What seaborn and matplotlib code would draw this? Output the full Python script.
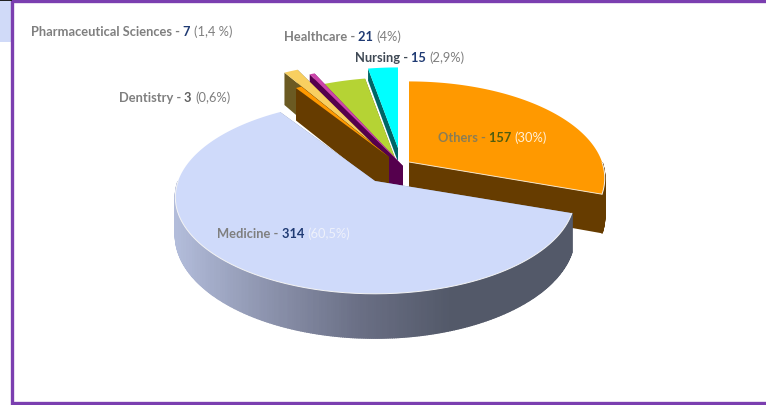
# 3D look exploded pie, drawn on a pixel sized axes
import numpy as np
import matplotlib
matplotlib.use("Agg")
import matplotlib.pyplot as plt
from matplotlib.patches import Rectangle
import seaborn as sns

# Data (clockwise from 12 o'clock), the 2 is the small slice without a label
categories = ["Others", "Medicine", "Dentistry", "Pharmaceutical Sciences", "Unlabelled", "Healthcare", "Nursing"]
values = [157, 314, 3, 7, 2, 21, 15]

# Label parts
label_names = ["Pharmaceutical Sciences", "Healthcare", "Nursing", "Dentistry", "Others", "Medicine"]
label_counts = ["7", "21", "15", "3", "157", "314"]
label_pcts = ["(1,4 %)", "(4%)", "(2,9%)", "(0,6%)", "(30%)", "(60,5%)"]

# Styles per slice
top_colors = ["#ff9900", "#cfdafa", "#ff9900", "#f8cf60", "#cc44aa", "#b5d334", "#00ffff"]
side_colors = ["#663c00", "#7f88a0", "#663c00", "#6b5a22", "#55004d", "#5a6a1a", "#006666"]
apex_x = [409, 375, 389, 372, 403, 395, 398]
apex_y = [162, 181, 157, 143, 166, 158, 148]
radius_scale = [1, 1, 1, 1, 1.3, 1, 1]
x_stretch = [1, 1.02, 1, 1, 1, 1, 1]
thickness = [37, 37, 37, 37, 37, 14, 14]
draw_order = [6, 5, 4, 3, 2, 0, 1]

RX, RY, DEPTH = 193, 94, 6.0
PURPLE = "#7b3fb0"


def project(theta, k, drop):
    # theta in radians clockwise from the top, k is the radial fraction
    x_in, y_in = k * np.sin(theta), k * np.cos(theta)
    s = DEPTH / (DEPTH + y_in)
    return x_in * RX * s, -y_in * RY * s, drop * s


sns.set_theme(style="white")
plt.rcParams["font.family"] = ["Lato", "DejaVu Sans"]

fig = plt.figure(figsize=(7.66, 4.05), dpi=100)
ax = fig.add_axes([0, 0, 1, 1])
ax.set_xlim(0, 766)
ax.set_ylim(405, 0)
ax.axis("off")

# Frame and the bit of slide behind it
ax.add_patch(Rectangle((0, 0), 12, 42, fc="#d0daf8", ec="none", zorder=0))
ax.add_patch(Rectangle((12, 1), 780, 402, fc="white", ec=PURPLE, lw=2.4, zorder=1))
ax.add_patch(Rectangle((0, 0), 12, 1.2, fc="#222222", ec="none", zorder=2))

rim_ramp = sns.blend_palette(["#b2bcda", "#8c93ad", "#6a6f85", "#535969"], 100)

fractions = np.array(values) / sum(values)
edges = np.concatenate([[0], np.cumsum(fractions)]) * 2 * np.pi

for rank, i in enumerate(draw_order):
    z = 5 + rank
    t0, t1 = edges[i], edges[i + 1]
    th = np.linspace(t0, t1, max(int(np.degrees(t1 - t0)) * 2, 6))
    k = radius_scale[i]
    ox, oy = apex_x[i], apex_y[i]
    xa, ya, da = project(th, k, thickness[i])
    xa, ya = xa * x_stretch[i] + ox, ya + oy

    # Cut faces, from apex to both ends of the arc
    for j in (0, -1):
        ax.fill([ox, xa[j], xa[j], ox],
                [oy, ya[j], ya[j] + da[j], oy + thickness[i]],
                color=side_colors[i], lw=0, zorder=z)

    # Rim in small strips, only the part facing us, Medicine gets the grey gradient
    for j in range(len(th) - 1):
        if np.cos(th[j]) > 0 or np.cos(th[j + 1]) > 0:
            continue
        if categories[i] == "Medicine":
            pos = np.clip((xa[j] - 175) / (450 - 175), 0, 1)
            strip_col = rim_ramp[int(pos * 99)]
        else:
            strip_col = side_colors[i]
        ax.fill([xa[j], xa[j + 1], xa[j + 1], xa[j]],
                [ya[j], ya[j + 1], ya[j + 1] + da[j + 1], ya[j] + da[j]],
                color=strip_col, lw=1.0, zorder=z)

    # Top face, with a light line only where it meets the side
    ax.fill(np.r_[ox, xa], np.r_[oy, ya], color=top_colors[i], lw=0, zorder=z + 0.5)
    front = np.cos(th) < 0
    ax.plot(xa[front], ya[front], color="#f4f4f4", lw=0.7, zorder=z + 0.6)
    if categories[i] == "Others":
        ax.plot([ox, xa[-1]], [oy, ya[-1]], color="#f4e2c4", lw=0.7, zorder=z + 0.6)

# Labels, three runs of text in a row
name_cols = ["#7f7f7f", "#7f7f7f", "#404a55", "#7f7f7f", "#8a7d55", "#7f7f7f"]
count_cols = ["#1f3a73", "#1f3a73", "#1f3a73", "#5f5f5f", "#4f5d10", "#1f3a73"]
pct_cols = ["#7f7f7f", "#7f7f7f", "#7f7f7f", "#7f7f7f", "#fff0d8", "#eef1fb"]
label_x = [31, 284, 355, 119, 438, 217]
label_y = [32, 37, 58, 98, 138, 234]

for n in range(len(label_names)):
    first = ax.text(label_x[n], label_y[n], label_names[n] + " - ", color=name_cols[n],
                    fontsize=9.3, fontweight="bold", va="center", ha="left", zorder=30)
    mid = ax.annotate(label_counts[n] + " ", xy=(1, 0), xycoords=first, va="bottom", ha="left",
                      color=count_cols[n], fontsize=9.3, fontweight="bold", zorder=30)
    ax.annotate(label_pcts[n], xy=(1, 0), xycoords=mid, va="bottom", ha="left",
                color=pct_cols[n], fontsize=9.3, zorder=30)

fig.savefig("out.png", dpi=100)
